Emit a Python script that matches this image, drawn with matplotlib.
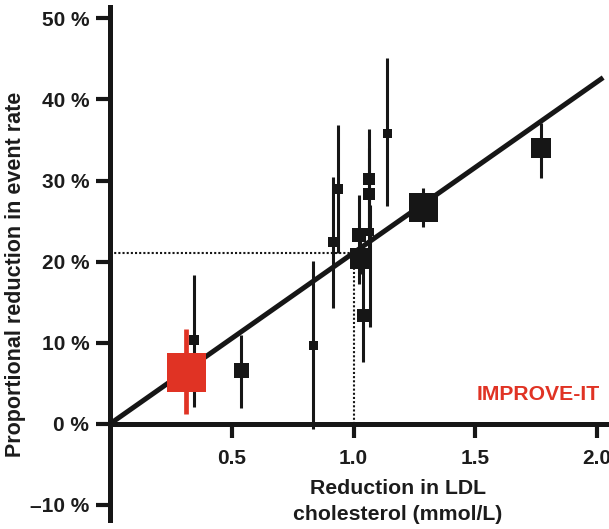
import matplotlib
matplotlib.use('Agg')
import matplotlib.pyplot as plt

# LDL reduction (mmol/L) vs proportional reduction in event rate (%)
ldl_red = [0.346, 0.537, 0.835, 0.917, 0.938, 1.024, 1.027, 1.038, 1.065, 1.065, 1.068, 1.136, 1.287, 1.770]
risk_red = [10.3, 6.6, 9.7, 22.4, 29.0, 23.3, 20.5, 13.4, 30.2, 28.4, 23.6, 35.9, 26.7, 34.0]
ci_low = [2.1, 2.0, -0.6, 14.3, 21.1, 17.2, 18.5, 7.6, 24.0, 21.0, 11.9, 26.9, 24.3, 30.3]
ci_high = [18.4, 11.0, 20.1, 30.4, 36.8, 28.2, 22.5, 19.5, 36.3, 34.0, 27.0, 45.1, 29.1, 37.1]
weight_px = [10, 15, 9, 10, 10, 14, 21, 13, 12, 12, 8, 9, 29, 20]

# IMPROVE-IT
imp_x = 0.312
imp_y = 6.4
imp_lo = 1.2
imp_hi = 11.7
imp_px = 39

# regression line
fit_x = [0.0, 2.025]
fit_y = [0.0, 42.7]
ref_x = 1.0
ref_y = 21.1

yticks = [-10, 0, 10, 20, 30, 40, 50]
ytick_labels = ['\u201310 %', '0 %', '10 %', '20 %', '30 %', '40 %', '50 %']
xticks = [0.5, 1.0, 1.5, 2.0]
xtick_labels = ['0.5', '1.0', '1.5', '2.0']

plt.rcParams['font.family'] = ['Liberation Sans', 'DejaVu Sans']
plt.rcParams['font.weight'] = 'bold'

black = '#161616'
red = '#e03324'
txt = '#1c1c1c'

fig = plt.figure(figsize=(6.09, 5.29), dpi=100)
ax = fig.add_axes([110/609, 9/529, 499/609, 513/529])
ax.set_xlim(0, 2.049)
ax.set_ylim(-11.85, 51.4)

# dotted reference lines
ax.plot([0, ref_x], [ref_y, ref_y], color=black, lw=1.5, ls=(0, (1, 1)), zorder=1)
ax.plot([ref_x, ref_x], [0, ref_y], color=black, lw=1.5, ls=(0, (1, 1)), zorder=1)

ax.plot(fit_x, fit_y, color=black, lw=3.6, solid_capstyle='butt', zorder=2)

for i in range(len(ldl_red)):
    ax.plot([ldl_red[i], ldl_red[i]], [ci_low[i], ci_high[i]], color=black, lw=2.2,
            solid_capstyle='butt', zorder=3)
    ax.plot(ldl_red[i], risk_red[i], marker='s', ms=weight_px[i]*0.72, color=black,
            mec=black, mew=0, zorder=4)

ax.plot([imp_x, imp_x], [imp_lo, imp_hi], color=red, lw=3.4, solid_capstyle='butt', zorder=5)
ax.plot(imp_x, imp_y, marker='s', ms=imp_px*0.72, color=red, mew=0, zorder=6)
ax.text(1.758, 3.6, 'IMPROVE-IT', color=red, fontsize=15.2, fontweight='bold',
        ha='center', va='center')

for s in ['top', 'right']:
    ax.spines[s].set_visible(False)
ax.spines['bottom'].set_position(('data', 0))
ax.spines['bottom'].set_linewidth(3.6)
ax.spines['left'].set_linewidth(3.6)
ax.spines['bottom'].set_color(black)
ax.spines['left'].set_color(black)

ax.set_yticks(yticks)
ax.set_yticklabels(ytick_labels)
ax.set_xticks(xticks)
ax.set_xticklabels(xtick_labels)
ax.tick_params(axis='y', length=10, width=3, color=black, pad=5, labelsize=15)
ax.tick_params(axis='x', length=10, width=3, color=black, pad=8, labelsize=15)
for lab in ax.get_xticklabels() + ax.get_yticklabels():
    lab.set_fontweight('bold')
    lab.set_color(txt)

fig.text(16/609, 1 - 274/529, 'Proportional reduction in event rate', rotation=90,
         ha='center', va='center', fontsize=15.5, fontweight='bold', color=txt)
fig.text(398/609, 1 - 488/529, 'Reduction in LDL', ha='center', va='center',
         fontsize=15.3, fontweight='bold', color=txt)
fig.text(398/609, 1 - 515/529, 'cholesterol (mmol/L)', ha='center', va='center',
         fontsize=15.3, fontweight='bold', color=txt)

plt.savefig('out.png', dpi=100)
